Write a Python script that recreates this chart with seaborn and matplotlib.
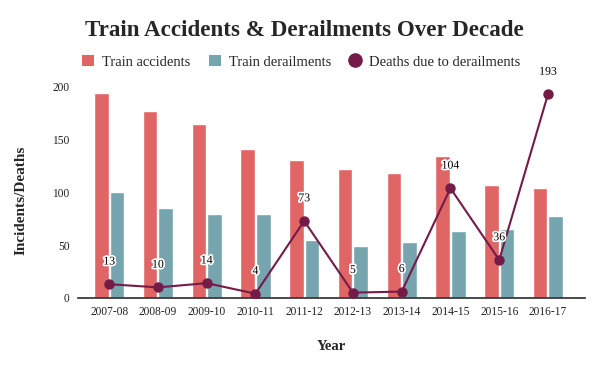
import numpy as np
import pandas as pd
import matplotlib.pyplot as plt
import matplotlib.patheffects as pe
from matplotlib.patches import Patch
from matplotlib.lines import Line2D
import seaborn as sns

# data
years = ["2007-08", "2008-09", "2009-10", "2010-11", "2011-12",
         "2012-13", "2013-14", "2014-15", "2015-16", "2016-17"]
accidents = [194, 177, 165, 141, 131, 122, 118, 135, 107, 104]
derailments = [100, 85, 80, 80, 55, 49, 53, 63, 65, 78]
deaths = [13, 10, 14, 4, 73, 5, 6, 104, 36, 193]

red = "#E06666"
teal = "#76A5AF"
plum = "#741B47"

sns.set_theme(style="white")
plt.rcParams['font.family'] = ['Liberation Serif', 'DejaVu Serif']

bars = pd.DataFrame({
    "Year": years * 2,
    "value": accidents + derailments,
    "kind": ["Train accidents"] * len(years) + ["Train derailments"] * len(years),
})

fig = plt.figure(figsize=(6, 3.71), dpi=100)
ax = fig.add_axes([0.13, 0.197, 0.845, 0.587])

sns.barplot(data=bars, x="Year", y="value", hue="kind", palette=[red, teal],
            width=0.64, gap=0.06, saturation=1, legend=False, ax=ax)

pos = np.arange(len(years))
ax.plot(pos, deaths, color=plum, lw=1.5, marker="o", ms=6.5, zorder=5)
for x, d in zip(pos, deaths):
    ax.annotate(str(d), (x, d), xytext=(0, 12), textcoords="offset points",
                ha="center", va="bottom", fontsize=8.5, color="black", zorder=6,
                annotation_clip=False,
                path_effects=[pe.withStroke(linewidth=2.5, foreground="white")])

ax.set_xlim(-0.64, len(years) - 0.24)
ax.set_ylim(0, 206.5)
ax.set_yticks([0, 50, 100, 150, 200])
for s in ["top", "right", "left"]:
    ax.spines[s].set_visible(False)
ax.spines["bottom"].set_color("#333333")
ax.tick_params(axis="both", length=0, labelsize=8.3, pad=6, colors="#222222")
ax.set_xlabel("Year", fontsize=10.5, fontweight="bold", labelpad=16)
ax.set_ylabel("Incidents/Deaths", fontsize=11, fontweight="bold")
ax.yaxis.set_label_coords(-0.1, 0.45)

fig.suptitle("Train Accidents & Derailments Over Decade", x=0.508, y=0.945,
             fontsize=16.6, fontweight="bold")

handles = [
    Patch(facecolor=red, edgecolor="none"),
    Patch(facecolor=teal, edgecolor="none"),
    Line2D([], [], color=plum, marker="o", ls="none", ms=9.5),
]
fig.legend(handles, ["Train accidents", "Train derailments", "Deaths due to derailments"],
           loc="center", bbox_to_anchor=(0.502, 0.833), ncol=3, frameon=False,
           fontsize=10.5, handlelength=0.82, handleheight=0.82, handletextpad=0.55,
           columnspacing=1.25)

fig.savefig("out.png", dpi=100)
